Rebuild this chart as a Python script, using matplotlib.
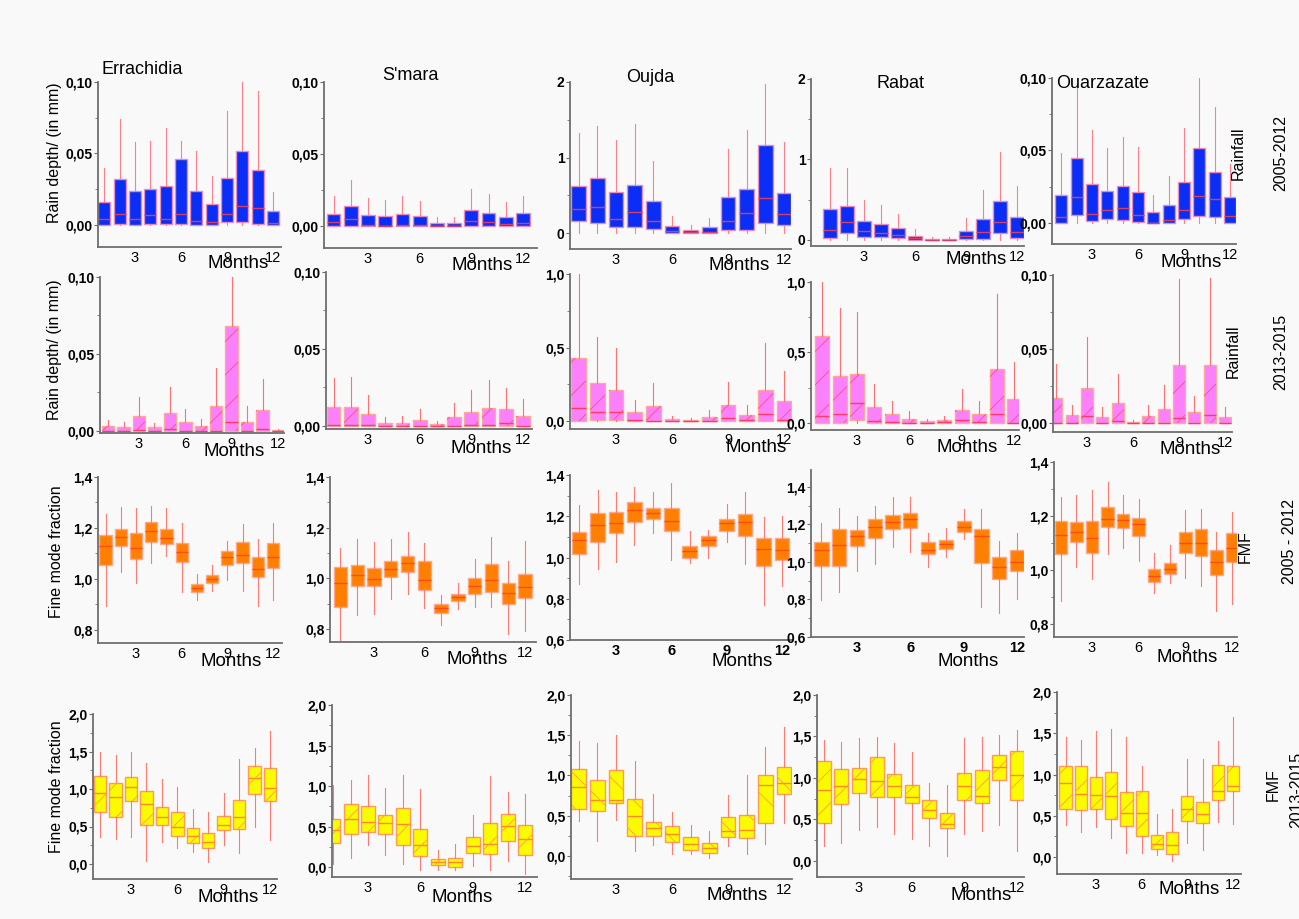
import matplotlib
matplotlib.use('Agg')
import matplotlib.pyplot as plt
from matplotlib.patches import PathPatch
from matplotlib.ticker import AutoMinorLocator

W, H = 1299, 919
SANS = ['Liberation Sans', 'DejaVu Sans']
NARROW = ['Liberation Sans Narrow', 'Liberation Sans', 'DejaVu Sans']
plt.rcParams['font.family'] = SANS
plt.rcParams['hatch.linewidth'] = 0.6

MONTHS = [1, 2, 3, 4, 5, 6, 7, 8, 9, 10, 11, 12]
XTICKS = [3, 6, 9, 12]
STATIONS = ["Errachidia", "S'mara", "Oujda", "Rabat", "Ouarzazate"]

# every block: whisker low, q1, median, q3, whisker high (one value per month)
# --- rainfall 2005-2012
RAIN0512_ERRACHIDIA = [
    [0, 0, 0, 0, 0, 0, 0, 0, 0, 0, 0, 0],
    [0.000, 0.001, 0.000, 0.001, 0.0005, 0.001, 0.000, 0.000, 0.002, 0.0023, 0.001, 0.000],
    [0.004, 0.0077, 0.004, 0.007, 0.004, 0.008, 0.003, 0.002, 0.0077, 0.0133, 0.0116, 0.0016],
    [0.0163, 0.032, 0.0235, 0.025, 0.0274, 0.046, 0.0235, 0.015, 0.033, 0.0516, 0.0386, 0.0095],
    [0.040, 0.0744, 0.058, 0.059, 0.068, 0.059, 0.052, 0.034, 0.0795, 0.100, 0.094, 0.023],
]
RAIN0512_SMARA = [
    [0, 0, 0, 0, 0, 0, 0, 0, 0, 0, 0, 0],
    [0, 0, 0, 0, 0, 0, 0, 0, 0, 0, 0, 0],
    [0.0025, 0.005, 0.001, 0.0003, 0.001, 0.0007, 0.0, 0.0003, 0.0035, 0.0025, 0.0014, 0.0023],
    [0.0086, 0.0137, 0.0079, 0.0072, 0.0083, 0.007, 0.002, 0.002, 0.011, 0.009, 0.0065, 0.009],
    [0.0208, 0.0317, 0.0197, 0.0183, 0.021, 0.0176, 0.0065, 0.0065, 0.026, 0.0225, 0.0167, 0.0206],
]
RAIN0512_OUJDA = [
    [0, 0, 0, 0, 0, 0, 0, 0, 0, 0, 0, 0],
    [0.154, 0.132, 0.075, 0.075, 0.053, 0.0, 0.0, 0.0, 0.048, 0.04, 0.132, 0.11],
    [0.316, 0.343, 0.19, 0.277, 0.163, 0.022, 0.01, 0.018, 0.163, 0.264, 0.46, 0.255],
    [0.63, 0.725, 0.54, 0.64, 0.42, 0.088, 0.035, 0.075, 0.475, 0.59, 1.16, 0.536],
    [1.32, 1.42, 1.23, 1.45, 0.954, 0.233, 0.11, 0.2, 1.108, 1.37, 1.98, 1.2],
]
RAIN0512_RABAT = [
    [0, 0, 0, 0, 0, 0, 0, 0, 0, 0, 0, 0],
    [0.02, 0.09, 0.04, 0.033, 0.025, 0.0, 0.0, 0.0, 0.008, 0.016, 0.09, 0.02],
    [0.124, 0.228, 0.112, 0.083, 0.062, 0.03, 0.004, 0.004, 0.05, 0.1, 0.228, 0.1],
    [0.38, 0.42, 0.23, 0.195, 0.145, 0.054, 0.012, 0.012, 0.116, 0.265, 0.485, 0.28],
    [0.89, 0.9, 0.5, 0.43, 0.32, 0.133, 0.033, 0.033, 0.27, 0.62, 1.087, 0.67],
]
RAIN0512_OUARZAZATE = [
    [0, 0, 0, 0, 0, 0, 0, 0, 0, 0, 0, 0],
    [0.0, 0.0055, 0.0012, 0.0025, 0.0018, 0.0007, 0.0, 0.0, 0.003, 0.0048, 0.004, 0.0],
    [0.004, 0.018, 0.0065, 0.0088, 0.010, 0.0053, 0.0002, 0.0023, 0.0088, 0.0185, 0.0164, 0.0048],
    [0.0192, 0.045, 0.0266, 0.0224, 0.0254, 0.0212, 0.0076, 0.0127, 0.028, 0.052, 0.035, 0.0178],
    [0.0485, 0.095, 0.064, 0.052, 0.059, 0.0527, 0.0196, 0.0323, 0.0658, 0.10, 0.0797, 0.0406],
]

# --- rainfall 2013-2015
RAIN1315_ERRACHIDIA = [
    [0, 0, 0, 0, 0, 0, 0, 0, 0, 0, 0, 0],
    [0, 0, 0, 0, 0, 0, 0, 0, 0, 0, 0, 0],
    [0.0, 0.0, 0.0005, 0.0, 0.0013, 0.0, 0.0, 0.0, 0.006, 0.0, 0.0013, 0.0],
    [0.003, 0.0024, 0.0096, 0.0024, 0.012, 0.006, 0.003, 0.0163, 0.0685, 0.006, 0.0139, 0.0005],
    [0.007, 0.006, 0.022, 0.005, 0.0287, 0.0146, 0.008, 0.041, 0.10, 0.016, 0.0337, 0.0015],
]
RAIN1315_SMARA = [
    [0, 0, 0, 0, 0, 0, 0, 0, 0, 0, 0, 0],
    [0, 0, 0, 0, 0, 0, 0, 0, 0, 0, 0, 0],
    [0.0006, 0.0006, 0.0004, 0.0, 0.0, 0.0, 0.0, 0.0, 0.0006, 0.0004, 0.002, 0.0],
    [0.0123, 0.0123, 0.0076, 0.0017, 0.0017, 0.0037, 0.0011, 0.0056, 0.0089, 0.0117, 0.0108, 0.0065],
    [0.031, 0.032, 0.020, 0.0056, 0.0065, 0.0108, 0.0035, 0.0147, 0.0233, 0.0298, 0.0246, 0.0173],
]
RAIN1315_OUJDA = [
    [0, 0, 0, 0, 0, 0, 0, 0, 0, 0, 0, 0],
    [0, 0.005, 0.005, 0, 0, 0, 0, 0, 0, 0, 0, 0],
    [0.091, 0.059, 0.059, 0.007, 0.0, 0.0, 0.0, 0.002, 0.018, 0.007, 0.045, 0.005],
    [0.426, 0.261, 0.211, 0.059, 0.102, 0.011, 0.005, 0.027, 0.107, 0.043, 0.211, 0.138],
    [1.0, 0.569, 0.5, 0.143, 0.256, 0.036, 0.018, 0.075, 0.263, 0.109, 0.533, 0.34],
]
RAIN1315_RABAT = [
    [0, 0, 0, 0, 0, 0, 0, 0, 0, 0, 0, 0],
    [0, 0, 0.024, 0, 0, 0, 0, 0, 0, 0, 0, 0],
    [0.05, 0.066, 0.144, 0.017, 0.007, 0.002, 0.002, 0.007, 0.024, 0.009, 0.066, 0.0],
    [0.615, 0.331, 0.35, 0.111, 0.061, 0.031, 0.012, 0.019, 0.095, 0.061, 0.38, 0.173],
    [1.0, 0.818, 0.787, 0.274, 0.154, 0.083, 0.031, 0.052, 0.239, 0.154, 0.912, 0.433],
]
RAIN1315_OUARZAZATE = [
    [0, 0, 0, 0, 0, 0, 0, 0, 0, 0, 0, 0],
    [0, 0, 0, 0, 0, 0, 0, 0, 0, 0, 0, 0],
    [0.0, 0.0, 0.005, 0.0, 0.0011, 0.0, 0.0, 0.0, 0.0036, 0.0, 0.0054, 0.0],
    [0.0169, 0.0052, 0.024, 0.0043, 0.0133, 0.0007, 0.005, 0.0094, 0.0393, 0.0074, 0.0393, 0.0043],
    [0.0398, 0.0124, 0.058, 0.0106, 0.0333, 0.0022, 0.0124, 0.0258, 0.097, 0.0184, 0.098, 0.011],
]

# --- fine mode fraction 2005-2012
FMF0512_ERRACHIDIA = [
    [0.895, 1.027, 0.984, 1.063, 1.089, 0.948, 0.916, 0.952, 0.997, 0.954, 0.893, 0.918],
    [1.054, 1.128, 1.078, 1.144, 1.136, 1.065, 0.950, 0.984, 1.056, 1.061, 1.008, 1.043],
    [1.128, 1.165, 1.120, 1.190, 1.160, 1.106, 0.966, 1.001, 1.086, 1.095, 1.040, 1.086],
    [1.171, 1.196, 1.180, 1.222, 1.196, 1.141, 0.980, 1.016, 1.110, 1.144, 1.085, 1.142],
    [1.255, 1.282, 1.280, 1.287, 1.277, 1.220, 1.020, 1.054, 1.150, 1.216, 1.157, 1.220],
]
FMF0512_SMARA = [
    [0.758, 0.857, 0.859, 0.918, 0.939, 0.883, 0.818, 0.879, 0.889, 0.889, 0.780, 0.792],
    [0.887, 0.968, 0.968, 1.005, 1.025, 0.954, 0.863, 0.909, 0.938, 0.946, 0.899, 0.922],
    [0.982, 1.013, 0.999, 1.038, 1.060, 0.993, 0.884, 0.928, 0.968, 0.993, 0.942, 0.967],
    [1.045, 1.051, 1.041, 1.068, 1.088, 1.068, 0.900, 0.938, 1.001, 1.058, 0.982, 1.017],
    [1.120, 1.155, 1.145, 1.155, 1.184, 1.139, 0.933, 0.982, 1.076, 1.163, 1.068, 1.149],
]
FMF0512_OUJDA = [
    [0.870, 0.945, 0.977, 1.063, 1.120, 0.990, 0.971, 1.000, 1.076, 0.968, 0.770, 0.860],
    [1.015, 1.076, 1.119, 1.173, 1.188, 1.129, 1.000, 1.058, 1.129, 1.104, 0.960, 0.990],
    [1.087, 1.156, 1.165, 1.229, 1.215, 1.178, 1.031, 1.084, 1.165, 1.170, 1.039, 1.036],
    [1.125, 1.216, 1.223, 1.270, 1.242, 1.239, 1.055, 1.104, 1.186, 1.212, 1.093, 1.093],
    [1.254, 1.327, 1.317, 1.340, 1.319, 1.360, 1.128, 1.133, 1.259, 1.319, 1.194, 1.203],
]
FMF0512_RABAT = [
    [0.797, 0.842, 0.950, 0.988, 1.081, 1.055, 0.975, 1.028, 1.124, 0.758, 0.726, 0.805],
    [0.979, 0.977, 1.085, 1.129, 1.175, 1.179, 1.040, 1.067, 1.158, 0.993, 0.911, 0.954],
    [1.062, 1.088, 1.136, 1.187, 1.213, 1.230, 1.064, 1.093, 1.186, 1.140, 0.973, 1.002],
    [1.106, 1.174, 1.170, 1.228, 1.249, 1.260, 1.106, 1.119, 1.217, 1.174, 1.028, 1.062],
    [1.205, 1.290, 1.245, 1.298, 1.347, 1.344, 1.156, 1.181, 1.281, 1.284, 1.110, 1.156],
]
FMF0512_OUARZAZATE = [
    [0.886, 1.010, 0.965, 1.059, 1.080, 1.035, 0.916, 0.951, 0.969, 0.941, 0.849, 0.873],
    [1.058, 1.105, 1.062, 1.158, 1.154, 1.126, 0.954, 0.984, 1.064, 1.053, 0.981, 1.031],
    [1.130, 1.140, 1.117, 1.188, 1.184, 1.170, 0.978, 1.004, 1.101, 1.101, 1.031, 1.080],
    [1.181, 1.177, 1.181, 1.232, 1.207, 1.194, 1.004, 1.027, 1.140, 1.151, 1.074, 1.136],
    [1.269, 1.278, 1.296, 1.327, 1.278, 1.262, 1.062, 1.093, 1.222, 1.226, 1.142, 1.214],
]

# --- fine mode fraction 2013-2015
FMF1315_ERRACHIDIA = [
    [0.356, 0.329, 0.364, 0.044, 0.298, 0.209, 0.156, 0.031, 0.249, 0.142, 0.498, 0.320],
    [0.689, 0.631, 0.844, 0.516, 0.516, 0.373, 0.276, 0.209, 0.453, 0.467, 0.929, 0.840],
    [0.942, 0.898, 1.022, 0.796, 0.622, 0.498, 0.373, 0.289, 0.520, 0.622, 1.142, 1.009],
    [1.173, 1.084, 1.164, 0.973, 0.764, 0.698, 0.476, 0.409, 0.644, 0.853, 1.311, 1.276],
    [1.498, 1.453, 1.498, 1.351, 1.129, 1.022, 0.733, 0.698, 0.942, 1.396, 1.542, 1.778],
]
FMF1315_SMARA = [
    [0.033, 0.111, 0.268, 0.144, 0.033, -0.041, -0.033, -0.041, 0.008, -0.041, 0.074, -0.082],
    [0.301, 0.412, 0.433, 0.412, 0.268, 0.132, 0.021, 0.000, 0.173, 0.165, 0.322, 0.144],
    [0.454, 0.598, 0.557, 0.548, 0.536, 0.268, 0.058, 0.058, 0.260, 0.289, 0.503, 0.350],
    [0.598, 0.775, 0.751, 0.647, 0.734, 0.474, 0.103, 0.115, 0.371, 0.548, 0.660, 0.515],
    [1.010, 1.080, 1.130, 0.981, 1.142, 0.961, 0.214, 0.280, 0.647, 1.122, 0.928, 0.907],
]
FMF1315_OUJDA = [
    [0.436, 0.187, 0.444, 0.058, 0.133, 0.029, 0.029, -0.025, 0.124, 0.029, 0.145, 0.415],
    [0.589, 0.560, 0.660, 0.249, 0.245, 0.174, 0.071, 0.041, 0.237, 0.224, 0.411, 0.776],
    [0.851, 0.701, 0.693, 0.494, 0.353, 0.270, 0.145, 0.100, 0.307, 0.328, 0.888, 0.909],
    [1.083, 0.942, 1.066, 0.705, 0.423, 0.369, 0.237, 0.162, 0.485, 0.506, 1.012, 1.108],
    [1.432, 1.398, 1.502, 1.183, 0.776, 0.548, 0.382, 0.311, 0.755, 1.004, 1.357, 1.598],
]
FMF1315_RABAT = [
    [0.181, 0.217, 0.370, 0.410, 0.330, 0.262, 0.181, 0.056, 0.322, 0.362, 0.431, 0.121],
    [0.459, 0.692, 0.825, 0.773, 0.773, 0.704, 0.523, 0.402, 0.732, 0.704, 0.974, 0.732],
    [0.861, 0.905, 0.982, 0.962, 0.905, 0.773, 0.620, 0.443, 0.901, 0.781, 1.135, 1.034],
    [1.203, 1.103, 1.115, 1.247, 1.054, 0.913, 0.740, 0.579, 1.062, 1.095, 1.276, 1.328],
    [1.457, 1.437, 1.477, 1.489, 1.416, 1.308, 0.934, 0.913, 1.477, 1.497, 1.513, 1.577],
]
FMF1315_OUARZAZATE = [
    [0.383, 0.302, 0.363, 0.234, 0.052, 0.048, 0.028, -0.048, 0.169, 0.081, 0.423, 0.403],
    [0.585, 0.573, 0.585, 0.460, 0.371, 0.250, 0.093, 0.040, 0.431, 0.415, 0.685, 0.794],
    [0.895, 0.766, 0.754, 0.738, 0.536, 0.532, 0.153, 0.149, 0.577, 0.524, 0.806, 0.859],
    [1.097, 1.097, 0.968, 1.036, 0.786, 0.794, 0.262, 0.302, 0.734, 0.665, 1.121, 1.097],
    [1.452, 1.419, 1.532, 1.552, 1.452, 1.097, 0.524, 0.577, 1.190, 1.190, 1.403, 1.694],
]

ROWS = [
    [RAIN0512_ERRACHIDIA, RAIN0512_SMARA, RAIN0512_OUJDA, RAIN0512_RABAT, RAIN0512_OUARZAZATE],
    [RAIN1315_ERRACHIDIA, RAIN1315_SMARA, RAIN1315_OUJDA, RAIN1315_RABAT, RAIN1315_OUARZAZATE],
    [FMF0512_ERRACHIDIA, FMF0512_SMARA, FMF0512_OUJDA, FMF0512_RABAT, FMF0512_OUARZAZATE],
    [FMF1315_ERRACHIDIA, FMF1315_SMARA, FMF1315_OUJDA, FMF1315_RABAT, FMF1315_OUARZAZATE],
]

# layout in pixels: left, right, top, bottom, x of tick "3", x of tick "12"
LAYOUT = [
    [(98, 281, 82, 247, 135, 273), (324, 537, 82, 248, 368, 523), (570, 791, 82, 249, 616, 784),
     (811, 1024, 79, 246, 864, 1017), (1052, 1236, 78, 244, 1092, 1230)],
    [(100, 284, 277, 433, 139, 278), (326, 532, 272, 429, 368, 523), (570, 792, 274, 429, 616, 784),
     (811, 1019, 282, 430, 857, 1014), (1053, 1232, 275, 432, 1087, 1225)],
    [(98, 282, 477, 643, 136, 273), (330, 536, 477, 642, 374, 525), (570, 792, 475, 640, 616, 782),
     (811, 1024, 470, 637, 857, 1017), (1054, 1237, 462, 637, 1092, 1232)],
    [(93, 277, 714, 879, 131, 270), (332, 537, 705, 877, 368, 525), (571, 792, 695, 879, 616, 784),
     (817, 1024, 695, 877, 859, 1017), (1057, 1241, 692, 874, 1096, 1233)],
]
YLIMS = [
    [(-0.0154, 0.10), (-0.0153, 0.10), (-0.21, 2.0), (-0.075, 2.0), (-0.0145, 0.10)],
    [(-0.0013, 0.10), (-0.002, 0.10), (-0.054, 1.0), (-0.05, 1.0), (-0.006, 0.10)],
    [(0.749, 1.4), (0.749, 1.4), (0.6, 1.4), (0.6, 1.49), (0.752, 1.4)],
    [(-0.2, 2.0), (-0.123, 2.0), (-0.286, 2.0), (-0.193, 2.0), (-0.206, 2.0)],
]
YTICKS = [
    [([0, 0.05, 0.10], 2), ([0, 0.05, 0.10], 2), ([0, 1, 2], 0), ([0, 1, 2], 0), ([0, 0.05, 0.10], 2)],
    [([0, 0.05, 0.10], 2), ([0, 0.05, 0.10], 2), ([0, 0.5, 1.0], 1), ([0, 0.5, 1.0], 1), ([0, 0.05, 0.10], 2)],
    [([0.8, 1.0, 1.2, 1.4], 1), ([0.8, 1.0, 1.2, 1.4], 1), ([0.6, 0.8, 1.0, 1.2, 1.4], 1),
     ([0.6, 0.8, 1.0, 1.2, 1.4], 1), ([0.8, 1.0, 1.2, 1.4], 1)],
    [([0, 0.5, 1.0, 1.5, 2.0], 1)] * 5,
]

ROW_STYLE = [
    dict(face='#0a2ef5', edge='#e88cc0', med='#d0406a', whisk='#ff7f8a', hatch=None, hcol=None),
    dict(face='#fb80fb', edge='#ffa8a0', med='#ff3a6a', whisk='#ff7070', hatch='/', hcol='#ff4f86'),
    dict(face='#ff8000', edge='#ffa88a', med='#ff4a10', whisk='#ff7a70', hatch=None, hcol=None),
    dict(face='#fbfb00', edge='#ff9a5a', med='#ff8a20', whisk='#ff7a70', hatch='/', hcol='#ffa040'),
]

MONTH_LABEL_POS = [
    [(238, 263), (482, 266), (739, 266), (976, 260), (1191, 262)],
    [(234, 451), (481, 448), (756, 447), (967, 447), (1190, 450)],
    [(231, 662), (477, 660), (742, 661), (968, 661), (1187, 658)],
    [(228, 897), (462, 898), (737, 895), (981, 896), (1189, 890)],
]
TITLE_POS = [(142, 69), (410, 76), (650, 78), (901, 83), (1103, 84)]


def fx(x):
    return x / W


def fy(y):
    return 1 - y / H


def comma(v, nd):
    return f"{v:.{nd}f}".replace('.', ',')


fig = plt.figure(figsize=(W / 100, H / 100), dpi=100)
fig.patch.set_facecolor('#f9f9f9')

for r in range(4):
    st = ROW_STYLE[r]
    for c in range(5):
        left, right, top, bottom, t3, t12 = LAYOUT[r][c]
        ax = fig.add_axes([fx(left), fy(bottom), (right - left) / W, (bottom - top) / H])
        ax.patch.set_alpha(0)
        ppm = (t12 - t3) / 9
        ax.set_xlim(3 - (t3 - left) / ppm, 12 + (right - t12) / ppm)
        ax.set_ylim(*YLIMS[r][c])

        d = ROWS[r][c]
        stats = [dict(whislo=d[0][i], q1=d[1][i], med=d[2][i], q3=d[3][i], whishi=d[4][i])
                 for i in range(12)]
        bp = ax.bxp(stats, positions=MONTHS, widths=0.8, patch_artist=True,
                    showfliers=False, showcaps=False,
                    boxprops=dict(facecolor=st['face'], edgecolor=st['edge'], linewidth=1.0),
                    medianprops=dict(color=st['med'], linewidth=1.0),
                    whiskerprops=dict(color=st['whisk'], linewidth=0.8))
        hatch = st['hatch']
        if r == 3 and c == 2:
            hatch = '\\'
        if hatch:
            for b in bp['boxes']:
                ax.add_patch(PathPatch(b.get_path(), facecolor='none', edgecolor=st['hcol'],
                                       linewidth=0, hatch=hatch, zorder=b.get_zorder() + 0.1))

        for s in ('top', 'right'):
            ax.spines[s].set_visible(False)
        for s in ('left', 'bottom'):
            ax.spines[s].set_color('#6e6e6e')
            ax.spines[s].set_linewidth(1.3)

        ticks, nd = YTICKS[r][c]
        ax.set_yticks(ticks)
        ax.set_yticklabels([comma(v, nd) for v in ticks], fontweight='bold', fontsize=10,
                           family=NARROW)
        ax.yaxis.set_minor_locator(AutoMinorLocator(2))
        ax.tick_params(axis='y', which='major', length=3, width=0.8, color='#6e6e6e', pad=1)
        ax.tick_params(axis='y', which='minor', length=2, width=0.6, color='#6e6e6e')

        ax.set_xticks(XTICKS)
        bold_x = (r == 2 and c in (2, 3))
        ax.set_xticklabels([str(m) for m in XTICKS], fontsize=10.5, family=NARROW,
                           fontweight='bold' if bold_x else 'normal')
        ax.tick_params(axis='x', length=0, pad=3)

        mx, my = MONTH_LABEL_POS[r][c]
        fig.text(fx(mx), fy(my), "Months", ha='center', va='center', fontsize=13.5, family=NARROW)

for c in range(5):
    tx, ty = TITLE_POS[c]
    fig.text(fx(tx), fy(ty), STATIONS[c], ha='center', va='center', fontsize=13)

# left axis titles
fig.text(fx(55), fy(153), "Rain depth/ (in mm)", rotation=90, ha='center', va='center', fontsize=11.5)
fig.text(fx(55), fy(350), "Rain depth/ (in mm)", rotation=90, ha='center', va='center', fontsize=11.5)
fig.text(fx(57), fy(552), "Fine mode fraction", rotation=90, ha='center', va='center', fontsize=11.5)
fig.text(fx(57), fy(787), "Fine mode fraction", rotation=90, ha='center', va='center', fontsize=11.5)

# right side labels
fig.text(fx(1238), fy(153), "Rainfall", rotation=90, ha='center', va='center', fontsize=11.5)
fig.text(fx(1281), fy(153), "2005-2012", rotation=90, ha='center', va='center', fontsize=11.5)
fig.text(fx(1233), fy(351), "Rainfall", rotation=90, ha='center', va='center', fontsize=11.5)
fig.text(fx(1281), fy(352), "2013-2015", rotation=90, ha='center', va='center', fontsize=11.5)
fig.text(fx(1245), fy(547), "FMF", rotation=90, ha='center', va='center', fontsize=11.5)
fig.text(fx(1290), fy(542), "2005 - 2012", rotation=90, ha='center', va='center', fontsize=11.5)
fig.text(fx(1273), fy(785), "FMF", rotation=90, ha='center', va='center', fontsize=11.5)
fig.text(fx(1297), fy(790), "2013-2015", rotation=90, ha='center', va='center', fontsize=11.5)

fig.savefig("out.png", dpi=100, facecolor=fig.get_facecolor())
